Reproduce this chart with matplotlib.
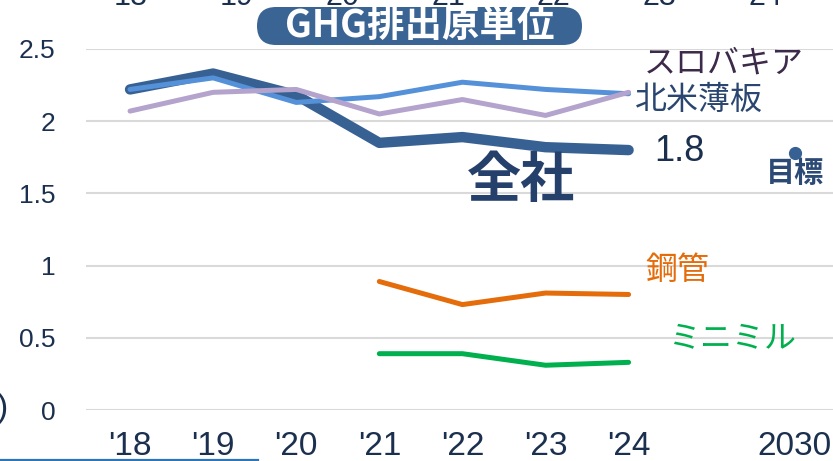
import matplotlib
matplotlib.use('Agg')
import matplotlib.pyplot as plt
from matplotlib.lines import Line2D
from matplotlib.patches import FancyBboxPatch
from matplotlib.transforms import IdentityTransform

plt.rcParams['font.family'] = ['Noto Sans CJK JP', 'DejaVu Sans']

# Fiscal-year categories (blank slot before the 2030 target)
years = ["'18", "'19", "'20", "'21", "'22", "'23", "'24", '', '2030']
top_years = ['18', '19', '20', '21', '22', '23', '24']

# GHG emission intensity by business
zensha = [2.22, 2.33, 2.18, 1.85, 1.89, 1.82, 1.80]
hokubei = [2.22, 2.30, 2.13, 2.17, 2.27, 2.22, 2.19]
slovakia = [2.07, 2.20, 2.22, 2.05, 2.15, 2.04, 2.20]
kokan = [0.89, 0.73, 0.81, 0.80]
minimill = [0.39, 0.39, 0.31, 0.33]
target_2030 = 1.78

yticks = [0, 0.5, 1, 1.5, 2, 2.5]
ytick_labels = ['0', '0.5', '1', '1.5', '2', '2.5']

navy = '#1b2f4e'
num_font = ['Liberation Sans Narrow', 'Liberation Sans', 'DejaVu Sans']
sans = ['Liberation Sans', 'DejaVu Sans']

W, H = 833, 461
fig = plt.figure(figsize=(W / 100, H / 100), dpi=100)
ax = fig.add_axes([86 / W, (H - 410) / H, (W - 86) / W, (410 - 49) / H])

idx = list(range(len(zensha)))
idx_late = idx[3:]

ax.plot(idx, zensha, color='#386193', lw=7.5, solid_capstyle='round',
        solid_joinstyle='round', zorder=3)
ax.plot(idx, hokubei, color='#5591d8', lw=3.6, solid_capstyle='round', zorder=4)
ax.plot(idx, slovakia, color='#b4a3cc', lw=3.6, solid_capstyle='round', zorder=5)
ax.plot(idx_late, kokan, color='#e46c0a', lw=3.6, solid_capstyle='round', zorder=4)
ax.plot(idx_late, minimill, color='#00b04f', lw=3.6, solid_capstyle='round', zorder=4)
ax.plot([8], [target_2030], 'o', color='#386193', ms=8.5, zorder=5)

ax.set_xlim(-0.53, 8.46)
ax.set_ylim(0, 2.5)
ax.set_xticks(range(len(years)))
ax.set_xticklabels(years, fontsize=24, color=navy, family=num_font)
ax.set_yticks(yticks)
ax.set_yticklabels(ytick_labels, fontsize=19, color=navy, family=sans)
ax.tick_params(axis='x', length=0, pad=15)
ax.tick_params(axis='y', length=0, pad=22)
ax.grid(axis='y', color='#d9d9d9', lw=1.5)
ax.set_axisbelow(True)
for s in ax.spines.values():
    s.set_visible(False)

# Series labels
ax.text(7.15, 2.40, 'スロバキア', fontsize=23, color='#3d2a4a',
        va='center', ha='center')
ax.text(6.84, 2.15, '北米薄板', fontsize=23, color='#2a4570',
        va='center', ha='center')
ax.text(6.61, 1.79, '1.8', fontsize=26, color=navy, va='center',
        ha='center', family=sans)
ax.text(4.7, 1.58, '全社', fontsize=39, fontweight='bold', color='#25406a',
        va='center', ha='center')
ax.text(8.0, 1.64, '目標', fontsize=21, fontweight='bold', color='#2b4a75',
        va='center', ha='center')
ax.text(6.59, 0.97, '鋼管', fontsize=23, color='#e46c0a',
        va='center', ha='center')
ax.text(7.24, 0.50, 'ミニミル', fontsize=23, color='#00b04f',
        va='center', ha='center')

# Year labels of the panel above, cut by the top edge
for i, lab in enumerate(top_years):
    fig.text((131 + i * 105.7) / W, 1 - 5 / H, lab, fontsize=22, color=navy,
             ha='center', va='baseline', family=sans)

# Title badge
badge = FancyBboxPatch((257, H - 45), 325, 38,
                       boxstyle='round,pad=0,rounding_size=19',
                       fc='#3a6494', ec='none', transform=IdentityTransform())
fig.add_artist(badge)
fig.text(420 / W, 1 - 25 / H, 'GHG排出原単位', fontsize=27, fontweight='bold',
         color='white', ha='center', va='center')

# Edge of the neighbouring panel on the left
fig.text(8 / W, 1 - 408 / H, ')', fontsize=24, color=navy, ha='right',
         va='center', family=sans)
fig.add_artist(Line2D([0, 258 / W], [1 - 460 / H, 1 - 460 / H],
                      color='#2e75b6', lw=1.6, transform=fig.transFigure))

fig.savefig('out.png', dpi=100)
